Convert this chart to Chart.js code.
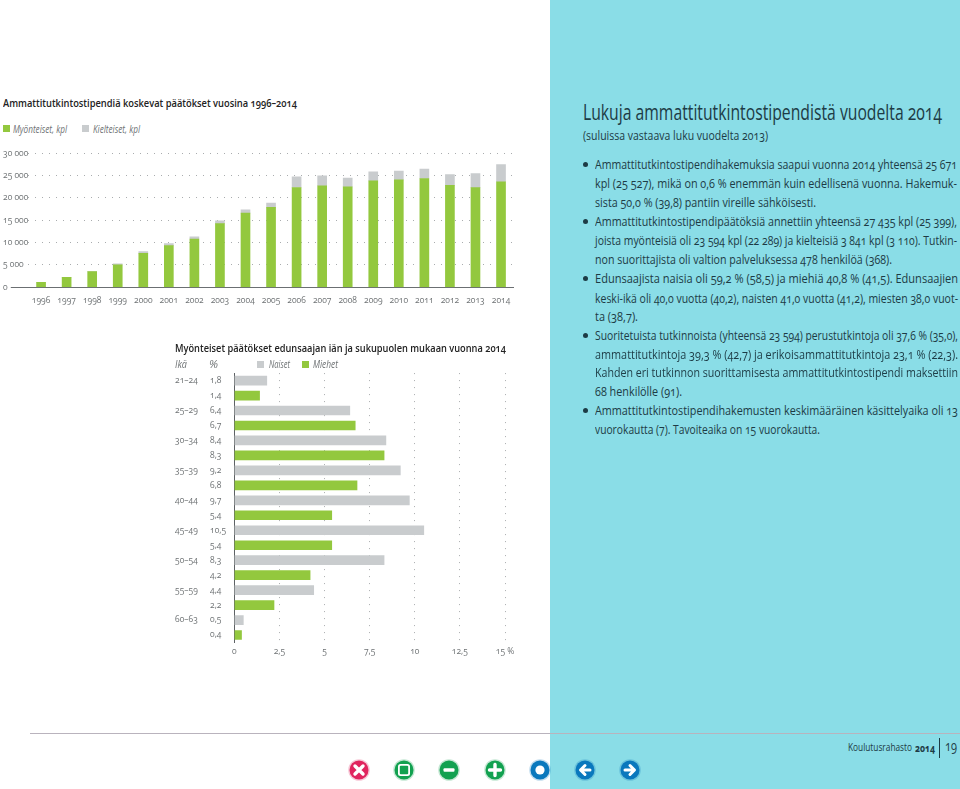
<!DOCTYPE html>
<html lang="fi">
<head>
<meta charset="utf-8">
<title>Ammattitutkintostipendi 2014</title>
<script src="https://cdn.jsdelivr.net/npm/chart.js@4/dist/chart.umd.min.js"></script>
<style>
  html, body { margin: 0; padding: 0; background: #fff; }
  #page { position: relative; width: 960px; height: 789px; overflow: hidden; font-family: "Open Sans", sans-serif; font-variant-numeric: oldstyle-nums; }
  #panel { position: absolute; left: 550px; top: 0; width: 410px; height: 789px; background: #8adde7; }
  #rule { position: absolute; left: 30px; top: 733px; width: 930px; height: 1px; background: #b9b3bd; }
  canvas { position: absolute; display: block; }
  .t { position: absolute; white-space: nowrap; transform-origin: 0 50%; line-height: 1; }
  .sq { position: absolute; width: 7px; height: 7px; }
  .dot { position: absolute; left: 583px; width: 5px; height: 5px; border-radius: 50%; background: #1d3b45; }
  svg.ic { position: absolute; }
</style>
</head>
<body>
<div id="page">
  <div id="panel"></div>
  <div id="rule"></div>
  <canvas id="grafikVuodet" width="530" height="170" style="left:0;top:145px"></canvas>
  <canvas id="grafikIka" width="360" height="295" style="left:165px;top:365px"></canvas>
  <div class="sq" style="left:3px;top:125px;background:#93c83e"></div>
  <div class="sq" style="left:82px;top:125px;background:#c9ccce"></div>
  <div class="sq" style="left:257px;top:361px;background:#c9ccce"></div>
  <div class="sq" style="left:302px;top:361px;background:#93c83e"></div>
</div>
<script>
// Data: paatokset vuosittain
const vuodet = ['1996','1997','1998','1999','2000','2001','2002','2003','2004','2005','2006','2007','2008','2009','2010','2011','2012','2013','2014'];
const myonteiset = [1120,2240,3500,5000,7600,9330,10800,14250,16570,17900,22300,22700,22460,23800,24030,24330,22800,22289,23594];
const kielteiset = [0,0,0,220,400,450,470,600,730,900,2400,2200,1940,2000,1940,2070,2400,3110,3841];

// Data: ika ja sukupuoli
const ikaryhmat = ['21–24','25–29','30–34','35–39','40–44','45–49','50–54','55–59','60–63'];
const naiset = [1.8,6.4,8.4,9.2,9.7,10.5,8.3,4.4,0.5];
const miehet = [1.4,6.7,8.3,6.8,5.4,5.4,4.2,2.2,0.4];

const VIHREA = '#93c83e', HARMAA = '#c9ccce';
const pilkku = v => String(v).replace('.', ',');

Chart.defaults.font.family = '"Open Sans", sans-serif';
Chart.defaults.font.size = 8.5;
Chart.defaults.color = '#6f7375';
Chart.defaults.animation = false;
Chart.defaults.responsive = false;
Chart.defaults.plugins.legend.display = false;
Chart.defaults.plugins.tooltip.enabled = false;

new Chart(document.getElementById('grafikVuodet'), {
  type: 'bar',
  data: {
    labels: vuodet,
    datasets: [
      { label: 'Myönteiset, kpl', data: myonteiset, backgroundColor: VIHREA, barThickness: 9 },
      { label: 'Kielteiset, kpl', data: kielteiset, backgroundColor: HARMAA, barThickness: 9 }
    ]
  },
  options: {
    layout: { padding: { left: 3, top: 7, right: 16.2 } },
    scales: {
      x: {
        stacked: true,
        grid: { display: false, drawTicks: false },
        border: { color: '#6b6f72', width: 1 },
        ticks: { padding: 8, maxRotation: 0, autoSkip: false },
        afterFit: a => { a.height = 27.7; }
      },
      y: {
        stacked: true,
        min: 0, max: 30000,
        border: { display: false, dash: [1, 6] },
        grid: {
          color: c => c.tick.value === 0 ? 'rgba(0,0,0,0)' : '#a9acae',
          tickColor: c => c.tick.value === 0 ? '#6b6f72' : 'rgba(0,0,0,0)',
          tickLength: 17.5,
          tickBorderDash: []
        },
        ticks: {
          stepSize: 5000,
          crossAlign: 'far',
          callback: v => String(v).replace(/\B(?=(\d{3})+$)/g, ' ')
        },
        afterFit: a => { a.width = 25.3; }
      }
    }
  }
});

// joka ryhmalla kaksi rivia: naiset ylla, miehet alla
const rivit = ikaryhmat.flatMap(r => [r, r + ' m']);
const ikaTekstit = ikaryhmat.flatMap(r => [r, '']);
const arvoTekstit = naiset.flatMap((n, i) => [pilkku(n), pilkku(miehet[i])]);

new Chart(document.getElementById('grafikIka'), {
  type: 'bar',
  data: {
    labels: rivit,
    datasets: [
      { label: 'Naiset', data: naiset.flatMap(n => [n, null]), backgroundColor: HARMAA, barThickness: 9 },
      { label: 'Miehet', data: miehet.flatMap(m => [null, m]), backgroundColor: VIHREA, barThickness: 9 }
    ]
  },
  options: {
    indexAxis: 'y',
    layout: { padding: { left: 10, top: 6.8, right: 20 } },
    scales: {
      x: {
        min: 0, max: 15,
        stacked: true,
        border: { display: false, dash: [1, 6] },
        grid: {
          color: c => c.tick.value === 0 ? 'rgba(0,0,0,0)' : '#a9acae',
          drawTicks: false
        },
        ticks: {
          stepSize: 2.5,
          padding: 4,
          maxRotation: 0,
          callback: v => v === 15 ? '15 %' : pilkku(v)
        },
        afterFit: a => { a.height = 17.5; }
      },
      y: {
        stacked: true,
        weight: 1,
        border: { color: '#5d6164', width: 1 },
        grid: { display: false },
        ticks: {
          crossAlign: 'far',
          autoSkip: false,
          callback: (v, i) => arvoTekstit[i]
        },
        afterFit: a => { a.width = 24.3; }
      },
      ika: {
        type: 'category',
        position: 'left',
        weight: 2,
        labels: rivit,
        offset: true,
        border: { display: false },
        grid: { display: false, drawTicks: false },
        ticks: {
          crossAlign: 'far',
          autoSkip: false,
          callback: (v, i) => ikaTekstit[i]
        },
        afterFit: a => { a.width = 35; }
      }
    }
  }
});

// Tekstit: [vasen, keskikohta y, oikea reuna, koko, vari, paino, tyyli, teksti]
const TUMMA = '#1d3b45', HAALEA = '#6f7375', MUSTA = '#222';
const tekstit = [
  [3, 103, 297, 11.5, MUSTA, 600, '', 'Ammattitutkintostipendiä koskevat päätökset vuosina 1996–2014'],
  [13, 129, 67, 10, HAALEA, 400, 'italic', 'Myönteiset, kpl'],
  [93, 129, 140, 10, HAALEA, 400, 'italic', 'Kielteiset, kpl'],
  [175, 348, 506, 11.5, MUSTA, 600, '', 'Myönteiset päätökset edunsaajan iän ja sukupuolen mukaan vuonna 2014'],
  [175, 364, 187, 10, HAALEA, 400, 'italic', 'Ikä'],
  [209, 364, 218, 10, HAALEA, 400, 'italic', '%'],
  [269, 364, 290, 10, HAALEA, 400, 'italic', 'Naiset'],
  [313, 364, 338, 10, HAALEA, 400, 'italic', 'Miehet'],
  [583, 112, 942, 21, TUMMA, 400, '', 'Lukuja ammattitutkintostipendistä vuodelta 2014'],
  [583, 136, 768, 12, TUMMA, 400, '', '(suluissa vastaava luku vuodelta 2013)'],
  [595, 164, 957, 13, TUMMA, 400, '', 'Ammattitutkintostipendihakemuksia saapui vuonna 2014 yhteensä 25 671'],
  [595, 183, 957, 13, TUMMA, 400, '', 'kpl (25 527), mikä on 0,6 % enemmän kuin edellisenä vuonna. Hakemuk-'],
  [595, 202, 816, 13, TUMMA, 400, '', 'sista 50,0 % (39,8) pantiin vireille sähköisesti.'],
  [595, 221, 957, 13, TUMMA, 400, '', 'Ammattitutkintostipendipäätöksiä annettiin yhteensä 27 435 kpl (25 399),'],
  [595, 240, 957, 13, TUMMA, 400, '', 'joista myönteisiä oli 23 594 kpl (22 289) ja kielteisiä 3 841 kpl (3 110). Tutkin-'],
  [595, 259, 892, 13, TUMMA, 400, '', 'non suorittajista oli valtion palveluksessa 478 henkilöä (368).'],
  [595, 278, 958, 13, TUMMA, 400, '', 'Edunsaajista naisia oli 59,2 % (58,5) ja miehiä 40,8 % (41,5). Edunsaajien'],
  [595, 298, 958, 13, TUMMA, 400, '', 'keski-ikä oli 40,0 vuotta (40,2), naisten 41,0 vuotta (41,2), miesten 38,0 vuot-'],
  [595, 316, 638, 13, TUMMA, 400, '', 'ta (38,7).'],
  [595, 335, 958, 13, TUMMA, 400, '', 'Suoritetuista tutkinnoista (yhteensä 23 594) perustutkintoja oli 37,6 % (35,0),'],
  [595, 354, 958, 13, TUMMA, 400, '', 'ammattitutkintoja 39,3 % (42,7) ja erikoisammattitutkintoja 23,1 % (22,3).'],
  [595, 372, 958, 13, TUMMA, 400, '', 'Kahden eri tutkinnon suorittamisesta ammattitutkintostipendi maksettiin'],
  [595, 391, 682, 13, TUMMA, 400, '', '68 henkilölle (91).'],
  [595, 410, 958, 13, TUMMA, 400, '', 'Ammattitutkintostipendihakemusten keskimääräinen käsittelyaika oli 13'],
  [595, 429, 820, 13, TUMMA, 400, '', 'vuorokautta (7). Tavoiteaika on 15 vuorokautta.'],
  [848, 747, 912, 11.5, TUMMA, 400, '', 'Koulutusrahasto'],
  [915, 748, 935, 10, TUMMA, 700, '', '2014'],
  [945, 746, 957, 14, TUMMA, 500, '', '19']
];
const sivu = document.getElementById('page');
tekstit.forEach(([x, y, oikea, koko, vari, paino, tyyli, teksti]) => {
  const d = document.createElement('div');
  d.className = 't';
  d.textContent = teksti;
  d.style.cssText = `left:${x}px;top:${y - koko / 2}px;font-size:${koko}px;color:${vari};font-weight:${paino};font-style:${tyyli || 'normal'}`;
  sivu.appendChild(d);
  d.style.transform = `scaleX(${(oikea - x) / d.getBoundingClientRect().width})`;
});

// luettelomerkit
[164, 221, 278, 335, 410].forEach(y => {
  const b = document.createElement('div');
  b.className = 'dot';
  b.style.top = (y - 2.5) + 'px';
  sivu.appendChild(b);
});
const viiva = document.createElement('div');
viiva.style.cssText = 'position:absolute;left:939px;top:738px;width:1px;height:20px;background:#1d3b45';
sivu.appendChild(viiva);

// navigointipainikkeet
const W = 'fill="#fff"';
const napit = [
  [359, '#e0245e', `<path d="M-4-4 4 4M4-4-4 4" stroke="#fff" stroke-width="3.4" stroke-linecap="round"/>`],
  [404, '#12a150', `<rect x="-6" y="-6" width="12" height="12" rx="2.5" ${W}/><rect x="-4.2" y="-4.2" width="8.4" height="8.4" rx="1" fill="#12a150"/>`],
  [449, '#12a150', `<rect x="-5.5" y="-1.7" width="11" height="3.4" rx="1" ${W}/>`],
  [495, '#12a150', `<path d="M-5.5 0H5.5M0-5.5V5.5" stroke="#fff" stroke-width="3.4" stroke-linecap="round"/>`],
  [540, '#0a78bd', `<circle r="4.6" ${W}/>`],
  [585, '#0a78bd', `<path d="M5 0H-3M0-4.5-4.5 0 0 4.5" stroke="#fff" stroke-width="3" fill="none" stroke-linecap="round" stroke-linejoin="round"/>`],
  [630, '#0a78bd', `<path d="M-5 0H3M0-4.5 4.5 0 0 4.5" stroke="#fff" stroke-width="3" fill="none" stroke-linecap="round" stroke-linejoin="round"/>`]
];
napit.forEach(([x, vari, sisus]) => {
  sivu.insertAdjacentHTML('beforeend',
    `<svg class="ic" style="left:${x - 12}px;top:758px" width="24" height="24" viewBox="-12 -12 24 24"><circle r="10.8" fill="${vari}" opacity=".25"/><circle r="9.5" fill="${vari}"/>${sisus}</svg>`);
});
</script>
</body>
</html>
